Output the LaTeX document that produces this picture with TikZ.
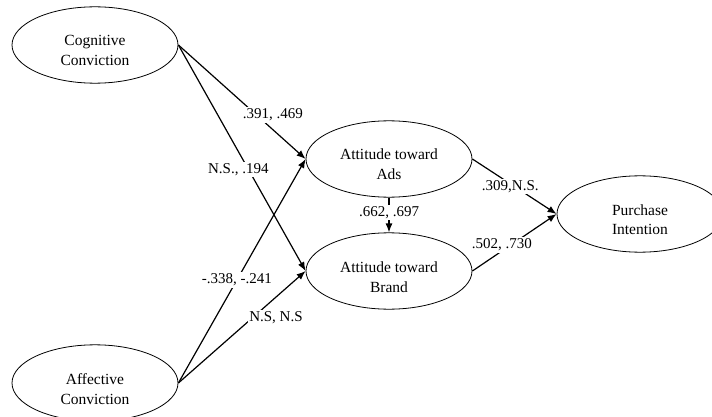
\documentclass[tikz,border=0pt]{standalone}
\usepackage{fontspec}
\setmainfont{Liberation Serif}
\usetikzlibrary{positioning,shapes.geometric,arrows.meta}
\newcommand{\lattext}[2]{\begin{tabular}{@{}c@{}}\rule{0pt}{28pt}#1\\#2\end{tabular}}

\begin{document}
\begin{tikzpicture}[node distance=4cm,on grid,line width=1.2pt,
					>={Latex[length=9pt,width=7pt]},
					latent/.style={ellipse,draw,line width=0.8pt,minimum width=166pt,
					minimum height=72pt,inner sep=0pt,
					font=\fontsize{15.5}{20}\selectfont},
					coef/.style={fill=white,inner sep=1.5pt,font=\fontsize{15}{18}\selectfont}]
					\useasboundingbox (-95pt,45pt) rectangle (617pt,-372pt);
					\node[latent] (cog) {\lattext{Cognitive}{Conviction}}; \node[latent] (ads)
					[below right=114pt and 294pt of cog] {\lattext{Attitude toward}{Ads}};
					\node[latent] (brand) [below=112pt of ads] {\lattext{Attitude toward}{Brand}};
					\node[latent] (aff) [below=338pt of cog] {\lattext{Affective}{Conviction}};
					\node[latent] (pi) [below right=55pt and 251pt of ads]
					{\lattext{Purchase}{Intention}}; \path [->] (cog.east) edge node
					[coef,pos=0.72,xshift=3pt,yshift=12pt]{.391, .469} (ads.west)
					(cog.east) edge node [coef,pos=0.55,xshift=-10pt]{N.S., .194}
					(brand.west) (aff.east) edge node [coef,pos=0.46]{-.338, -.241}
					(ads.west) (aff.east) edge node
					[coef,pos=0.72,xshift=6pt,yshift=-15pt]{N.S, N.S} (brand.west)
					(ads.south) edge node [coef,pos=0.42]{.662, .697} (brand.north)
					(ads.east) edge node [coef,pos=0.45,yshift=-3pt]{.309,N.S.}
					(pi.west) (brand.east) edge node
					[coef,pos=0.35,yshift=6pt]{.502, .730} (pi.west);

					\end{tikzpicture}
\end{document}
